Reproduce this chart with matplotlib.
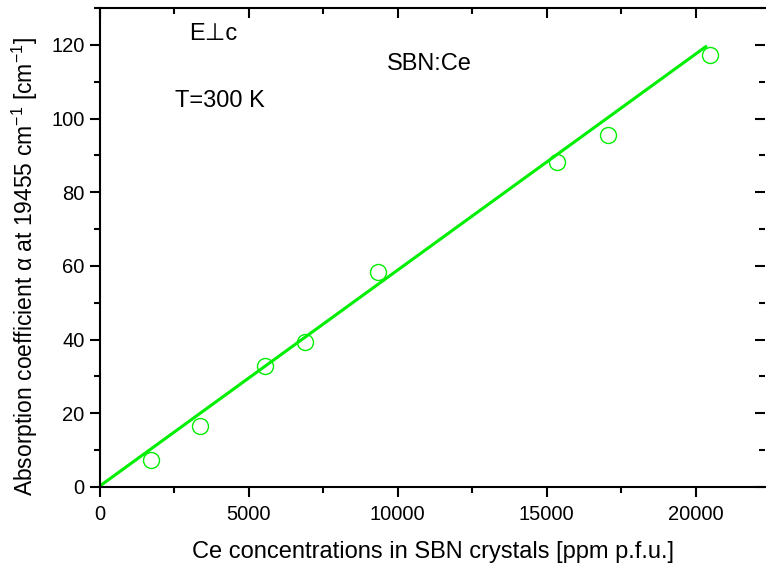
import matplotlib
matplotlib.use("Agg")
import matplotlib.pyplot as plt
from matplotlib.ticker import MultipleLocator

plt.rcParams['font.family'] = ['Liberation Sans', 'DejaVu Sans']
plt.rcParams['mathtext.fontset'] = 'custom'
plt.rcParams['mathtext.rm'] = 'Liberation Sans'
plt.rcParams['mathtext.it'] = 'Liberation Sans'
plt.rcParams['mathtext.default'] = 'regular'

# Data
ce_ppm = [1710, 3360, 5540, 6880, 9330, 15340, 17050, 20470]
alpha = [7.3, 16.6, 32.9, 39.4, 58.4, 88.2, 95.6, 117.3]
fit_x = [0, 20340]
fit_y = [0.3, 119.5]

green = '#00ee00'

fig = plt.figure(figsize=(7.66, 5.68), dpi=100)
ax = fig.add_axes([100/766, (568-487)/568, 665/766, (487-8)/568])

ax.plot(fit_x, fit_y, color=green, lw=2.2, zorder=2)
ax.plot(ce_ppm, alpha, linestyle='none', marker='o', ms=11.5,
        mfc='none', mec=green, mew=1.0, zorder=3)

ax.set_xlim(0, 22330)
ax.set_ylim(0, 130)

ax.xaxis.set_major_locator(MultipleLocator(5000))
ax.xaxis.set_minor_locator(MultipleLocator(2500))
ax.yaxis.set_major_locator(MultipleLocator(20))
ax.yaxis.set_minor_locator(MultipleLocator(10))

ax.tick_params(axis='both', which='major', direction='out', length=7, width=1.5,
               labelsize=14.5, colors='black')
ax.tick_params(axis='y', which='major', pad=4)
ax.tick_params(axis='x', which='major', pad=6)
ax.tick_params(axis='both', which='minor', direction='out', length=4, width=1.5)
ax.tick_params(axis='x', which='both', top=True)
ax.tick_params(axis='y', which='both', right=True)

for s in ['left', 'bottom', 'top']:
    ax.spines[s].set_linewidth(1.5)
ax.spines['right'].set_visible(False)

# Make top/right ticks point inward
for t in ax.xaxis.get_major_ticks() + ax.xaxis.get_minor_ticks():
    t.tick2line.set_marker(3)  # TICKDOWN
for t in ax.yaxis.get_major_ticks() + ax.yaxis.get_minor_ticks():
    t.tick2line.set_marker(0)  # TICKLEFT

ax.set_xlabel('Ce concentrations in SBN crystals [ppm p.f.u.]', fontsize=17, labelpad=12)
ax.set_ylabel('Absorption coefficient α at 19455 cm$^{-1}$ [cm$^{-1}$]', fontsize=16.5)
ax.yaxis.set_label_coords(-0.0895, 0.461)

ax.text(0.17, 0.945, 'E⊥c', transform=ax.transAxes, fontsize=17, ha='center', va='center',
        family=['Liberation Sans', 'DejaVu Sans'])
ax.text(0.181, 0.805, 'T=300 K', transform=ax.transAxes, fontsize=17, ha='center', va='center')
ax.text(0.495, 0.883, 'SBN:Ce', transform=ax.transAxes, fontsize=17, ha='center', va='center')

fig.savefig('out.png', dpi=100)
